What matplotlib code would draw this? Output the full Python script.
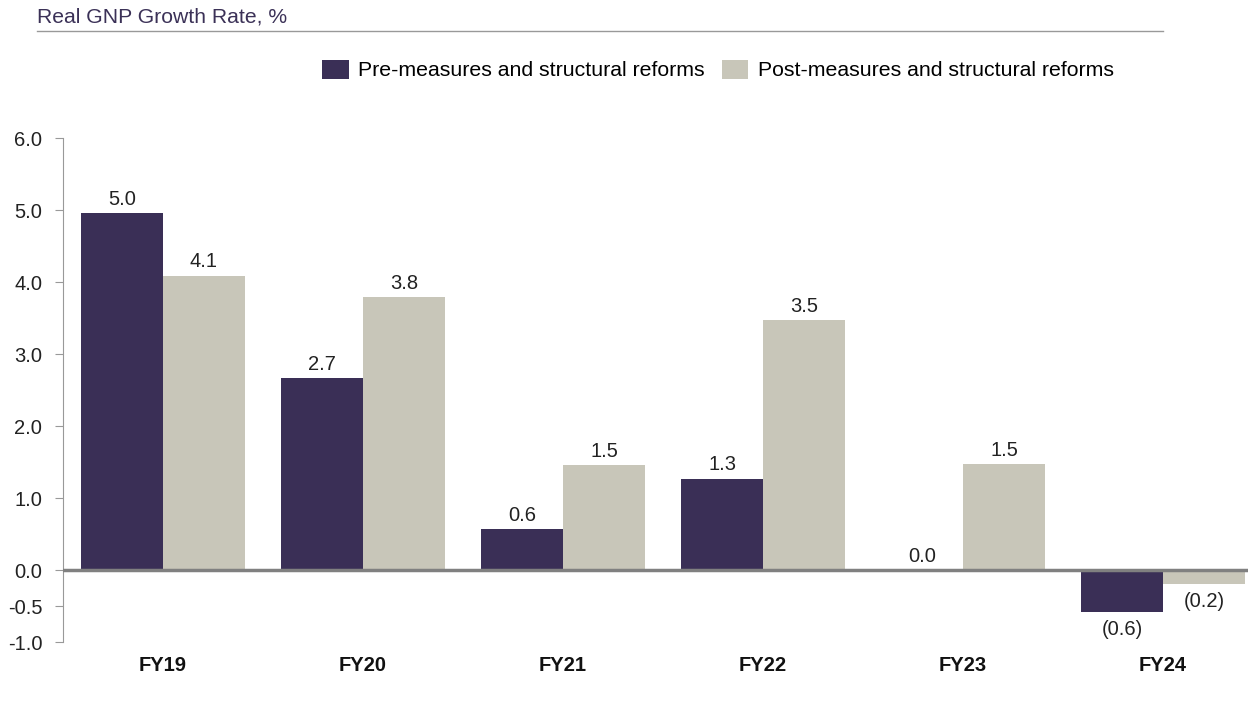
import numpy as np
import matplotlib.pyplot as plt
from matplotlib.lines import Line2D

plt.rcParams['font.family'] = ['Liberation Sans', 'DejaVu Sans']

years = ['FY19', 'FY20', 'FY21', 'FY22', 'FY23', 'FY24']
pre_vals = [4.96, 2.66, 0.57, 1.27, 0.0, -0.58]
post_vals = [4.09, 3.79, 1.46, 3.47, 1.47, -0.19]
series_names = ['Pre-measures and structural reforms', 'Post-measures and structural reforms']
yticks = [-1.0, -0.5, 0.0, 1.0, 2.0, 3.0, 4.0, 5.0, 6.0]

pre_color = '#3a2f56'
post_color = '#c8c6b9'
title_color = '#3b3157'


def fmt(v):
    if round(v, 1) < 0:
        return '(%.1f)' % abs(v)
    return '%.1f' % abs(v)


fig = plt.figure(figsize=(12.48, 7.02), dpi=100)
ax = fig.add_axes([63 / 1248, 60 / 702, 1 - 63 / 1248, (642 - 138) / 702])

x = np.arange(len(years))
w = 0.41
b1 = ax.bar(x - w / 2, pre_vals, w, color=pre_color, label=series_names[0], zorder=2)
b2 = ax.bar(x + w / 2, post_vals, w, color=post_color, label=series_names[1], zorder=2)

for bars, vals in [(b1, pre_vals), (b2, post_vals)]:
    for rect, v in zip(bars, vals):
        cx = rect.get_x() + rect.get_width() / 2
        if v < 0:
            ax.annotate(fmt(v), (cx, v), xytext=(0, -6), textcoords='offset points',
                        ha='center', va='top', fontsize=14.5, color='#222222')
        else:
            ax.annotate(fmt(v), (cx, v), xytext=(0, 3), textcoords='offset points',
                        ha='center', va='bottom', fontsize=14.5, color='#222222')

ax.set_xlim(-0.5, 5.425)
ax.set_ylim(-1.0, 6.0)
ax.set_yticks(yticks)
ax.set_yticklabels(['%.1f' % t for t in yticks], fontsize=14.5, color='#222222')
ax.set_xticks(x)
ax.set_xticklabels(years, fontsize=14.5, fontweight='bold', color='#111111')
ax.tick_params(axis='x', length=0, pad=10)
ax.tick_params(axis='y', length=6, color='#999999', pad=9)

for s in ['top', 'right', 'bottom']:
    ax.spines[s].set_visible(False)
ax.spines['left'].set_color('#999999')
ax.spines['left'].set_linewidth(0.8)
ax.axhline(0, color='#808080', linewidth=2.5, zorder=3)

fig.legend(handles=[b1, b2], loc='center', bbox_to_anchor=(718 / 1248, 1 - 70 / 702),
           ncol=2, frameon=False, fontsize=15.3, handlelength=1.25, handleheight=1.0,
           handletextpad=0.45, columnspacing=0.8)

fig.text(37 / 1248, 1 - 17 / 702, 'Real GNP Growth Rate, %', fontsize=15.2, color=title_color,
         ha='left', va='center')
fig.add_artist(Line2D([37 / 1248, 1163 / 1248], [1 - 31 / 702, 1 - 31 / 702],
                      color='#999999', linewidth=1.0))

fig.savefig('out.png', dpi=100)
